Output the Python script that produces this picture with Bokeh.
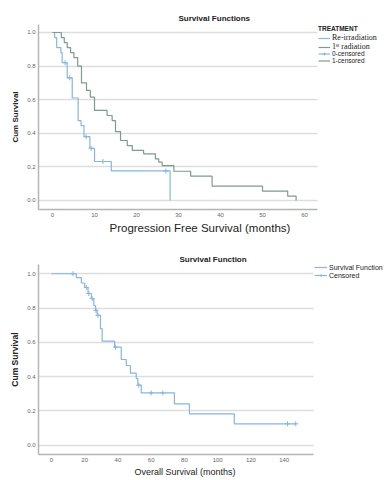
import numpy as np
from bokeh.plotting import figure
from bokeh.layouts import column
from bokeh.models import (Legend, LegendItem, FixedTicker, PrintfTickFormatter, Title,
                          ColumnDataSource, CDSView, IndexFilter)
from bokeh.embed import file_html
from bokeh.resources import INLINE

# ---------------- data: progression free survival ----------------
pfs_reirr_t = [0, 0.5, 1.0, 2.0, 2.3, 3.5, 4.7, 6.1, 6.8, 7.5, 8.9, 10.0, 14.0, 28.0]
pfs_reirr_s = [1.0, 0.97, 0.91, 0.88, 0.82, 0.73, 0.61, 0.476, 0.446, 0.38, 0.31, 0.232, 0.176, 0.0]
pfs_reirr_cens = [3.0, 4.1, 8.0, 9.2, 12.0, 27.0]

pfs_first_t = [0, 2.1, 2.8, 3.5, 4.3, 5.1, 6.0, 6.9, 8.1, 9.0, 10.0, 13.0, 14.2, 15.0,
               16.2, 17.8, 19.0, 21.7, 24.5, 25.3, 26.1, 28.9, 32.9, 38.0, 50.0, 56.0, 58.0]
pfs_first_s = [1.0, 0.97, 0.94, 0.91, 0.88, 0.85, 0.80, 0.70, 0.655, 0.615, 0.536, 0.506, 0.476, 0.41,
               0.357, 0.327, 0.298, 0.278, 0.248, 0.228, 0.208, 0.174, 0.145, 0.085, 0.056, 0.026, 0.0]
pfs_first_cens = []  # no censored marks are visible on this curve

pfs_xticks = [0, 10, 20, 30, 40, 50, 60]
surv_yticks = [0.0, 0.2, 0.4, 0.6, 0.8, 1.0]

# ---------------- data: overall survival ----------------
os_t = [0, 15, 18, 20, 22, 24, 25.5, 26.5, 27.5, 29.5, 30.5, 38, 42, 45, 47.5, 51, 52, 54, 74, 83, 110, 147]
os_s = [1.0, 0.977, 0.946, 0.92, 0.885, 0.855, 0.815, 0.786, 0.757, 0.68, 0.607, 0.572, 0.50, 0.465,
        0.42, 0.389, 0.35, 0.305, 0.241, 0.183, 0.125, 0.125]
os_cens = [13, 21, 22.5, 24.5, 26.8, 28, 38.5, 52.5, 60, 67, 142, 147]
os_xticks = [0, 20, 40, 60, 80, 100, 120, 140]

BLUE = "#86b6e2"
GREEN = "#7c9c8c"
SANS = "Liberation Sans"
SERIF = "Liberation Serif"


def cens_y(t, s, c):
    t = np.asarray(t, dtype=float)
    s = np.asarray(s, dtype=float)
    idx = np.searchsorted(t, np.asarray(c, dtype=float), side="right") - 1
    return list(s[idx]) if len(c) else []


def style(p, xticks, xbounds):
    p.outline_line_color = None
    p.xgrid.grid_line_color = None
    p.ygrid.grid_line_color = "#dddddd"
    p.ygrid.grid_line_width = 1.5
    p.ygrid.cross_bounds = xbounds
    p.xaxis.ticker = FixedTicker(ticks=xticks)
    p.yaxis.ticker = FixedTicker(ticks=surv_yticks)
    p.yaxis.formatter = PrintfTickFormatter(format="%.1f")
    p.xaxis.bounds = xbounds
    for ax in (p.xaxis[0], p.yaxis[0]):
        ax.axis_line_color = "#b4b4b4"
        ax.axis_line_width = 1.5
        ax.major_tick_line_color = None
        ax.minor_tick_line_color = None
        ax.major_tick_out = 0
        ax.major_tick_in = 0
        ax.minor_tick_out = 0
        ax.major_label_text_font = SANS
        ax.major_label_text_font_size = "6px"
        ax.major_label_text_color = "#666666"
        ax.major_label_standoff = 3
    p.yaxis.axis_label = "Cum Survival"
    p.yaxis.axis_label_text_font = SANS
    p.yaxis.axis_label_text_font_style = "bold"
    p.yaxis.axis_label_text_color = "#222222"
    p.yaxis.axis_label_standoff = 4


def make_legend(p, items, loc, font, size, h, gw, title=None):
    lg = Legend(items=items, location=loc)
    if title:
        lg.title = title
        lg.title_text_font = SANS
        lg.title_text_font_size = "6.5px"
        lg.title_text_font_style = "bold"
        lg.title_text_color = "#222222"
        lg.title_standoff = 1
    lg.label_text_font = font
    lg.label_text_font_size = size
    lg.border_line_color = None
    lg.background_fill_alpha = 0
    lg.padding = 0
    lg.margin = 0
    lg.spacing = 0
    lg.label_height = h
    lg.glyph_height = h
    lg.glyph_width = gw
    lg.label_standoff = 2
    lg.label_text_color = "#222222"
    p.add_layout(lg)
    return lg


# ---------------- top chart ----------------
X1 = (-3.333, 63.1)
p1 = figure(width=388, height=240, x_range=(X1[0], 80.0), y_range=(-0.0536, 1.0476),
            output_backend="svg", toolbar_location=None,
            min_border_left=38, min_border_right=0, min_border_top=24, min_border_bottom=31)
style(p1, pfs_xticks, X1)
p1.yaxis.axis_label_text_font_size = "8px"
p1.title.text = "Survival Functions"
p1.title.align = "left"
p1.title.offset = 140
p1.title.text_font = SANS
p1.title.text_font_size = "8px"
p1.title.text_font_style = "bold"
p1.title.text_color = "#222222"
p1.title.standoff = 4
p1.add_layout(Title(text="Progression Free Survival (months)", align="left", offset=71,
                    text_font=SANS, text_font_size="11.5px", text_font_style="normal",
                    text_color="#222222", standoff=0), "below")

r_re = p1.step(pfs_reirr_t, pfs_reirr_s, mode="after", line_color=BLUE, line_width=1.2)
r_fi = p1.step(pfs_first_t, pfs_first_s, mode="after", line_color=GREEN, line_width=1.2)
c0 = p1.scatter(pfs_reirr_cens, cens_y(pfs_reirr_t, pfs_reirr_s, pfs_reirr_cens), marker="cross",
                size=5, line_color=BLUE, line_width=1)
# the "1-censored" series has no visible marks; a filtered-out source keeps its legend entry
src1 = ColumnDataSource(dict(x=pfs_first_t[-1:], y=pfs_first_s[-1:]))
c1 = p1.scatter("x", "y", source=src1, view=CDSView(filter=IndexFilter(indices=[])),
                marker="cross", size=5, line_color=GREEN, line_width=1)

make_legend(p1, [LegendItem(label="Re-irradiation", renderers=[r_re])], (280, 167), SERIF, "8px", 8, 12,
            title="TREATMENT")
make_legend(p1, [LegendItem(label="1ˢᵗ radiation", renderers=[r_fi])], (280, 158), SERIF, "8px", 8, 12)
make_legend(p1, [LegendItem(label="0-censored", renderers=[r_re, c0])], (280, 152), SANS, "6.5px", 7, 12)
make_legend(p1, [LegendItem(label="1-censored", renderers=[r_fi, c1])], (280, 145), SANS, "6.5px", 7, 12)

# ---------------- bottom chart ----------------
X2 = (-7.8, 157.8)
p2 = figure(width=388, height=240, x_range=(X2[0], 202.8), y_range=(-0.054, 1.054),
            output_backend="svg", toolbar_location=None,
            min_border_left=37, min_border_right=0, min_border_top=24, min_border_bottom=26)
style(p2, os_xticks, X2)
p2.xaxis.major_label_standoff = 3
p2.yaxis.axis_label_text_font_size = "8.5px"
p2.title.text = "Survival Function"
p2.title.align = "left"
p2.title.offset = 141
p2.title.text_font = SANS
p2.title.text_font_size = "8px"
p2.title.text_font_style = "bold"
p2.title.text_color = "#222222"
p2.title.standoff = 2
p2.add_layout(Title(text="Overall Survival (months)", align="left", offset=96,
                    text_font=SANS, text_font_size="9px", text_font_style="normal",
                    text_color="#222222", standoff=0), "below")

r_os = p2.step(os_t, os_s, mode="after", line_color=BLUE, line_width=1.2)
c_os = p2.scatter(os_cens, cens_y(os_t, os_s, os_cens), marker="cross", size=5,
                  line_color=BLUE, line_width=1)
make_legend(p2, [LegendItem(label="Survival Function", renderers=[r_os]),
                 LegendItem(label="Censored", renderers=[r_os, c_os])], (276, 175), SANS, "7px", 8, 13)

layout = column(p1, p2, spacing=0)
open("out.html", "w").write(file_html(layout, INLINE))
